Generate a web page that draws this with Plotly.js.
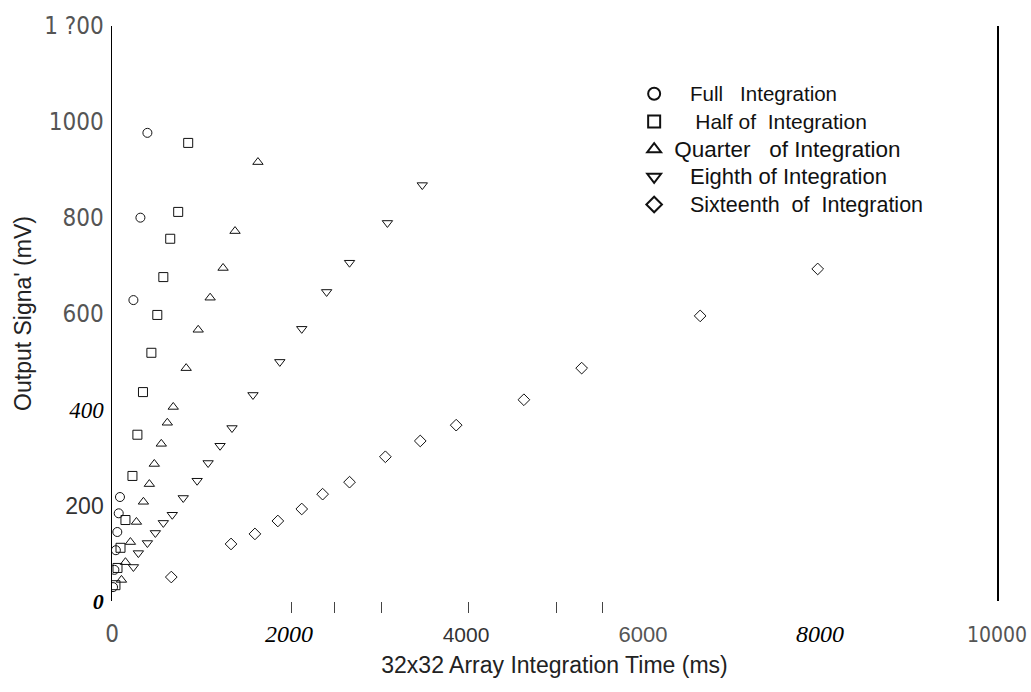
<!DOCTYPE html>
<html>
<head>
<meta charset="utf-8">
<script src="https://cdn.plot.ly/plotly-3.0.1.min.js"></script>
<style>
  html, body { margin: 0; padding: 0; background: #fff; }
  #chart { width: 1031px; height: 692px; }
</style>
</head>
<body>
<div id="chart"></div>
<script>
// ---- data ----
const seriesNames = [
  "Full\u00A0\u00A0\u00A0Integration",
  "Half of\u00A0\u00A0Integration",
  "Quarter\u00A0\u00A0\u00A0of Integration",
  "Eighth of Integration",
  "Sixteenth\u00A0\u00A0of\u00A0\u00A0Integration"
];

const fullX = [12, 27, 44, 60, 76, 90, 242, 321, 400];
const fullY = [29, 65, 106, 144, 183, 217, 628, 800, 977];

const halfX = [39, 62, 96, 152, 231, 287, 350, 445, 512, 580, 658, 748, 861];
const halfY = [33, 69, 111, 169, 261, 347, 436, 518, 597, 676, 756, 812, 956];

const quarterX = [107, 152, 208, 276, 355, 422, 478, 557, 625, 692, 838, 974, 1109, 1255, 1390, 1649];
const quarterY = [44, 81, 123, 165, 207, 244, 286, 328, 372, 405, 486, 566, 633, 695, 772, 916];

const eighthX = [242, 298, 400, 490, 580, 681, 805, 962, 1086, 1221, 1356, 1593, 1896, 2144, 2425, 2684, 3112, 3506];
const eighthY = [71, 100, 121, 142, 163, 180, 215, 251, 288, 324, 361, 430, 499, 568, 645, 706, 789, 868];

const sixteenthX = [670, 1345, 1615, 1874, 2144, 2380, 2684, 3089, 3483, 3889, 4654, 5307, 6646, 7974];
const sixteenthY = [50, 119, 140, 167, 192, 223, 248, 301, 334, 367, 420, 486, 595, 693];

const yTickVals = [0, 200, 400, 600, 800, 1000, 1200];
const yTickLabels = ['0', '200', '400', '600', '800', '1000', '1 ?00'];
const xTickVals = [0, 2000, 4000, 6000, 8000, 10000];
const xTickLabels = ['0', '2000', '4000', '6000', '8000', '10000'];
// stray tick marks visible along the bottom of the reference
const xStrayTicks = [2025, 2510, 3040, 4030, 5020, 5540];

// ---- styling ----
const serifItalic = 'font-family:Liberation Serif;font-style:italic;fill:#000;';
const yTickStyles = [
  serifItalic + 'font-weight:bold;font-size:22px', 'font-family:Liberation Sans;font-size:23px;fill:#333',
  serifItalic + 'font-size:23px', '', '', '', ''
];
const xTickStyles = [
  '', serifItalic + 'font-size:24px', 'font-family:Liberation Sans;font-size:21px;fill:#333',
  'font-family:Liberation Sans;font-size:22px', serifItalic + 'font-size:24px', 'font-size:21px'
];
const styled = (t, s) => s ? '<span style="' + s + '">' + t + '</span>' : t;
const yTickText = yTickLabels.map((t, i) => styled(t, yTickStyles[i]));
const xTickText = xTickLabels.map((t, i) => styled(t, xTickStyles[i]));

const legendPad = ['\u00A0\u00A0\u00A0', '\u00A0\u00A0\u00A0\u00A0', '', '\u00A0\u00A0\u00A0', '\u00A0\u00A0\u00A0'];
const legendSizes = [20.5, 21, 22.5, 22, 21.5];

const symbols = ['circle-open', 'square-open', 'triangle-up-open', 'triangle-down-open', 'diamond-open'];
const xs = [fullX, halfX, quarterX, eighthX, sixteenthX];
const ys = [fullY, halfY, quarterY, eighthY, sixteenthY];

const traces = xs.map((x, i) => ({
  type: 'scatter',
  mode: 'markers',
  name: legendPad[i] + '<span style="font-size:' + legendSizes[i] + 'px">' + seriesNames[i] + '</span>',
  x: x,
  y: ys[i],
  marker: {
    symbol: symbols[i],
    size: 9,
    color: '#111',
    line: { color: '#111', width: 1.0 }
  }
}));

const condensed = 'Liberation Sans Narrow, DejaVu Sans Condensed, Arial Narrow, sans-serif';

const layout = {
  width: 1031,
  height: 692,
  margin: { l: 112, r: 34, t: 26, b: 91 },
  paper_bgcolor: '#fff',
  plot_bgcolor: '#fff',
  showlegend: true,
  legend: {
    x: 0.59, y: 0.915, xanchor: 'left', yanchor: 'top',
    font: { family: 'Liberation Sans, Arial, sans-serif', size: 19, color: '#111' },
    bgcolor: 'rgba(0,0,0,0)',
    itemsizing: 'constant'
  },
  xaxis: {
    range: [0, 10000],
    showline: false,
    zeroline: false,
    showgrid: false,
    ticks: '',
    tickvals: xTickVals,
    ticktext: xTickText,
    ticklabelstandoff: 16,
    ticklabeloverflow: 'allow',
    tickfont: { family: condensed, size: 24, color: '#555' },
    minor: {
      tickmode: 'array',
      tickvals: xStrayTicks,
      ticks: 'outside',
      ticklen: 11,
      tickwidth: 1,
      tickcolor: '#444',
      showgrid: false
    },
    title: {
      text: '32x32 Array Integration Time (ms)',
      font: { family: 'Liberation Sans, Arial, sans-serif', size: 23, color: '#222' },
      standoff: 9
    }
  },
  yaxis: {
    range: [0, 1200],
    showline: true,
    linecolor: '#000',
    linewidth: 1.5,
    mirror: true,
    zeroline: false,
    showgrid: false,
    ticks: '',
    tickvals: yTickVals,
    ticktext: yTickText,
    ticklabelstandoff: 2,
    tickfont: { family: condensed, size: 24, color: '#555' },
    title: {
      text: "Output Signa' (mV)",
      font: { family: 'Liberation Sans, Arial, sans-serif', size: 23, color: '#222' },
      standoff: 6
    }
  }
};

Plotly.newPlot('chart', traces, layout, { displayModeBar: false, staticPlot: true });
</script>
</body>
</html>
